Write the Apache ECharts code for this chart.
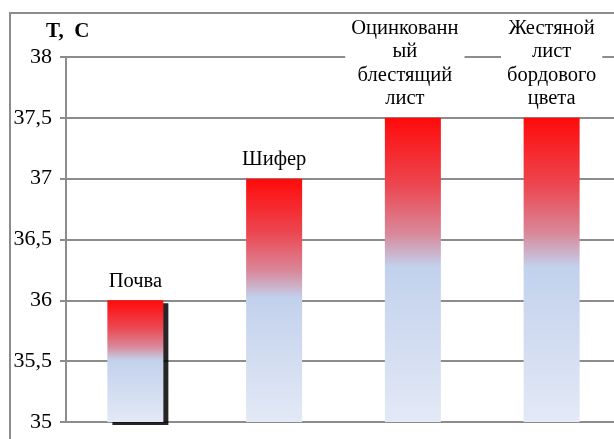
<!DOCTYPE html>
<html>
<head>
<meta charset="utf-8">
<script src="https://cdn.jsdelivr.net/npm/echarts@6/dist/echarts.min.js"></script>
<style>
html,body{margin:0;padding:0;background:#fff;}
#chart{width:614px;height:439px;}
</style>
</head>
<body>
<div id="chart"></div>
<script>
var categories = ['Почва', 'Шифер', 'Оцинкованн\nый\nблестящий\nлист', 'Жестяной\nлист\nбордового\nцвета'];
var temperatures = [36, 37, 37.5, 37.5];
var yTicks = ['35', '35,5', '36', '36,5', '37', '37,5', '38'];
var axisTitle = 'T,  C';

var serif = '"Liberation Serif", "DejaVu Serif", serif';
var chart = echarts.init(document.getElementById('chart'), null, {renderer: 'canvas'});

var grad = new echarts.graphic.LinearGradient(0, 0, 0, 1, [
  {offset: 0, color: '#ff0a0a'},
  {offset: 0.22, color: '#ec4650'},
  {offset: 0.38, color: '#d9889a'},
  {offset: 0.49, color: '#c2d1ec'},
  {offset: 1, color: '#e3e9f6'}
]);

var data = temperatures.map(function (v, i) {
  var item = {value: v};
  if (i === 0) {
    item.itemStyle = {shadowColor: 'rgba(0,0,0,0.85)', shadowBlur: 0, shadowOffsetX: 5, shadowOffsetY: 3};
  }
  if (i === 2) {
    item.label = {offset: [-8, 0]};
  }
  return item;
});

chart.setOption({
  animation: false,
  backgroundColor: '#fff',
  graphic: [{
    type: 'rect',
    shape: {x: 10, y: 13, width: 800, height: 600},
    style: {fill: 'none', stroke: '#8c8c8c', lineWidth: 2},
    z: 0
  }],
  title: {
    text: axisTitle,
    left: 41,
    top: 16,
    textStyle: {fontFamily: serif, fontWeight: 'bold', fontSize: 21, color: '#000'}
  },
  grid: {left: 66, top: 57, bottom: 17, width: 555, containLabel: false, outerBoundsMode: 'none'},
  xAxis: {
    type: 'category',
    data: categories,
    axisLine: {show: true, lineStyle: {color: '#8c8c8c', width: 2}},
    axisTick: {show: false},
    axisLabel: {show: false},
    splitLine: {show: false}
  },
  yAxis: {
    type: 'value',
    min: 35,
    max: 38,
    interval: 0.5,
    axisLine: {show: true, lineStyle: {color: '#8c8c8c', width: 2}},
    axisTick: {show: true, length: 6, lineStyle: {color: '#8c8c8c', width: 2}},
    axisLabel: {
      margin: 14,
      fontFamily: serif,
      fontSize: 22,
      color: '#000',
      formatter: function (v) {
        var idx = Math.round((v - 35) / 0.5);
        return yTicks[idx];
      }
    },
    splitLine: {show: true, lineStyle: {color: '#8c8c8c', width: 2}}
  },
  series: [{
    type: 'bar',
    data: data,
    barWidth: 56,
    itemStyle: {color: grad},
    label: {
      show: true,
      position: 'top',
      distance: 7,
      fontFamily: serif,
      fontSize: 20.5,
      lineHeight: 23.5,
      color: '#000',
      backgroundColor: '#fff',
      padding: [2, 6, 0, 6],
      formatter: function (p) { return p.name; }
    }
  }]
});
</script>
</body>
</html>
